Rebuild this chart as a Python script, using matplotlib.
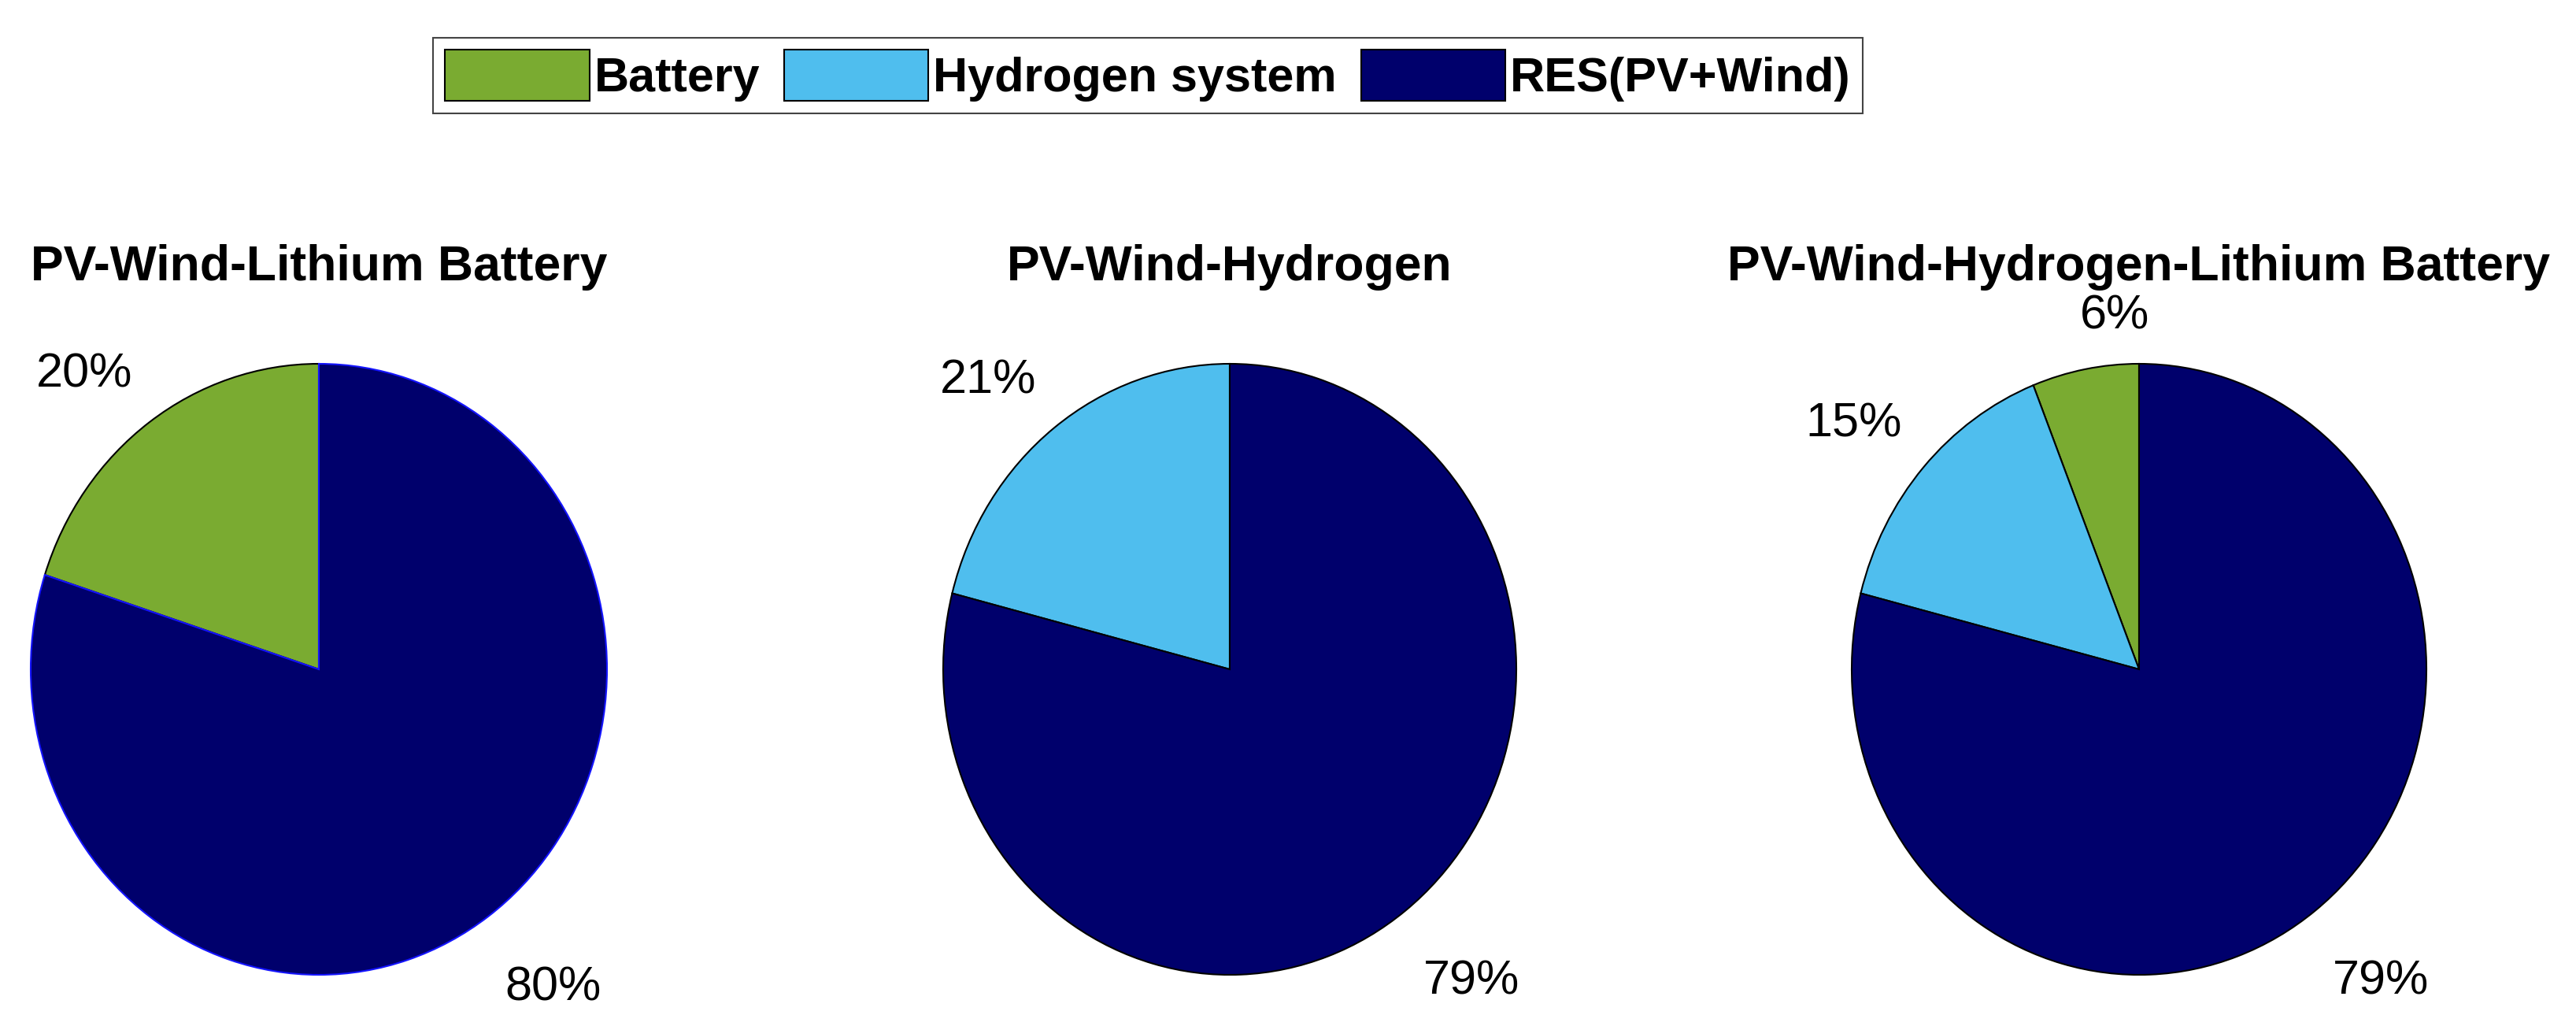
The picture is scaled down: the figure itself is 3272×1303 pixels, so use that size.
import matplotlib.pyplot as plt
from matplotlib.patches import Patch

plt.rcParams['font.family'] = ['Liberation Sans', 'DejaVu Sans']

# data
categories = ['Battery', 'Hydrogen system', 'RES(PV+Wind)']
titles = ['PV-Wind-Lithium Battery', 'PV-Wind-Hydrogen',
          'PV-Wind-Hydrogen-Lithium Battery']

pie1_parts = ['Battery', 'RES(PV+Wind)']
pie1_values = [20, 80]
pie2_parts = ['Hydrogen system', 'RES(PV+Wind)']
pie2_values = [21, 79]
pie3_parts = ['Battery', 'Hydrogen system', 'RES(PV+Wind)']
pie3_values = [6, 15, 79]

colors = {'Battery': '#7AAB31', 'Hydrogen system': '#4FBEEE',
          'RES(PV+Wind)': '#00006C'}

W, H = 3273, 1303
fig = plt.figure(figsize=(W / 100, H / 100), dpi=100)

# pie boxes in pixels: centre x, centre y (from top), half width, half height
boxes = [(405, 850, 366, 388), (1562, 850, 364, 388), (2717, 850, 365, 388)]

pies = [(pie1_parts, pie1_values), (pie2_parts, pie2_values), (pie3_parts, pie3_values)]

for i, (parts, vals) in enumerate(pies):
    cx, cy, rx, ry = boxes[i]
    ax = fig.add_axes([(cx - rx) / W, (H - cy - ry) / H, 2 * rx / W, 2 * ry / H])
    wedges, texts = ax.pie(vals, labels=[f'{v}%' for v in vals],
                           colors=[colors[p] for p in parts],
                           startangle=90, counterclock=True, labeldistance=1.1,
                           wedgeprops=dict(edgecolor='black', linewidth=1.5),
                           textprops=dict(fontsize=44))
    if i == 0:
        wedges[-1].set_edgecolor('#1414FF')
    ax.set_aspect('auto')
    ax.set_xlim(-1, 1)
    ax.set_ylim(-1, 1)
    # MATLAB-like label alignment
    for t in texts:
        x, y = t.get_position()
        t.set_ha('right' if x < -0.3 else 'left')
        if y > 0:
            t.set_va('bottom')
        else:
            t.set_va('top')
            t.set_y(y - 0.08)
    ax.set_title(titles[i], fontsize=45, fontweight='bold', pad=76)

handles = [Patch(facecolor=colors[c], edgecolor='black', linewidth=1.5) for c in categories]
leg = fig.legend(handles, categories, loc='center',
                 bbox_to_anchor=(1458 / W, 1 - 96 / H), ncol=3,
                 prop=dict(weight='bold', size=44),
                 handlelength=3.0, handleheight=1.25, handletextpad=0.1,
                 columnspacing=0.5, borderpad=0.25, fancybox=False,
                 edgecolor='#444444', framealpha=1)
leg.get_frame().set_linewidth(1.5)

fig.savefig('out.png', dpi=100)
